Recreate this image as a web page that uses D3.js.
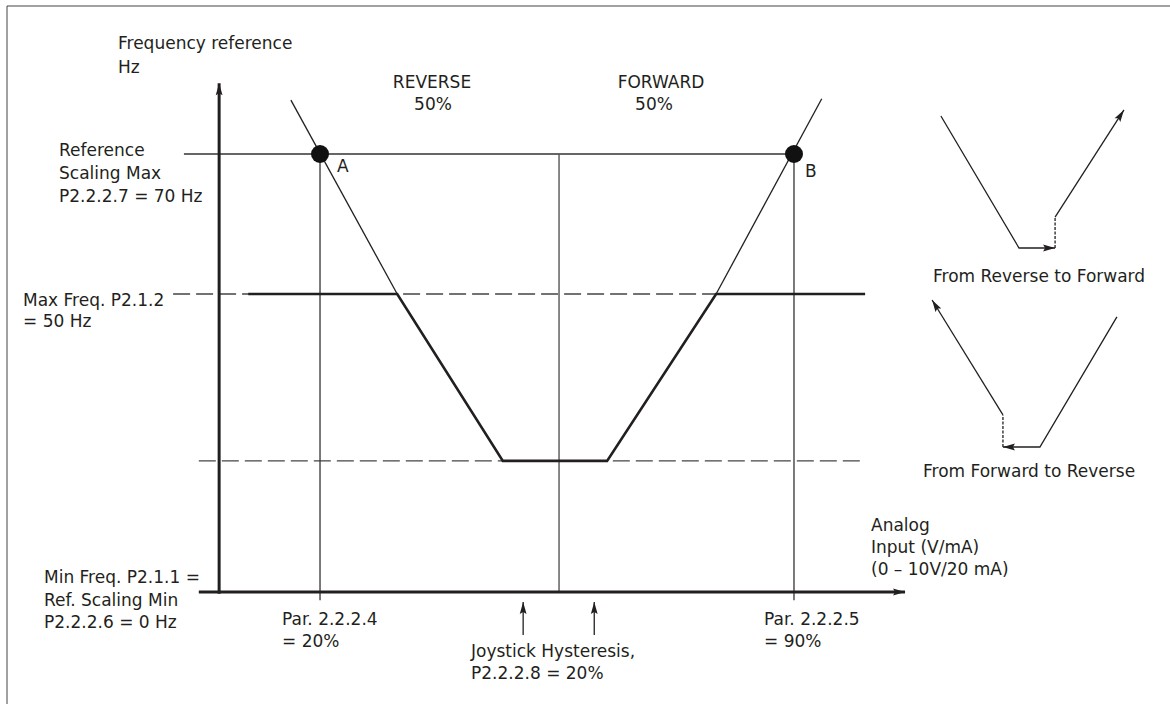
<!DOCTYPE html>
<html>
<head>
<meta charset="utf-8">
<title>Joystick hysteresis</title>
<style>
  body { margin: 0; background: #fff; }
  svg text { font-family: "DejaVu Sans", sans-serif; font-size: 17px; fill: #231f20; }
</style>
<script src="https://cdn.jsdelivr.net/npm/d3@7/dist/d3.min.js"></script>
</head>
<body>
<div id="chart"></div>
<script type="text/javascript">

// ---- data (x = analog input %, y = frequency Hz) ----
var levelsHz = [0, 22, 50, 70];              // min, hysteresis floor, max freq, ref scaling max
var parPct = [20, 90];                        // Par. 2.2.2.4 / Par. 2.2.2.5
var centerPct = 55.3;                         // reverse / forward split
var hystPct = [50, 60.5];                     // joystick hysteresis band
var thickCurve = [[9.4, 50], [31.4, 50], [47.0, 22], [62.4, 22], [78.5, 50], [100.5, 50]];
var thinLeft = [[15.7, 77.7], [31.4, 50]];
var thinRight = [[94.1, 77.9], [78.5, 50]];
var pointsAB = [{name: "A", pct: 20, hz: 70}, {name: "B", pct: 90, hz: 70}];
var refMaxLine = [[-0.1, 70], [90, 70]];
var maxDash = [[-1.7, 50], [100.5, 50]];
var minDash = [[2.1, 22], [100.5, 22]];
var xAxisPts = [[2.1, 0], [106.4, 0]];
var yAxisPts = [[5.1, -0.3], [5.1, 80.1]];

// small explanatory sketches (units 0..100 in their own box)
var fwdSketch = [[9.5, 94.3], [45, 0], [61.4, 0]];
var fwdStep = [[61.4, 0], [61.4, 22.1]];
var fwdOut = [[61.4, 22.1], [92.7, 98.6]];
var revIn = [[89.5, 92.9], [54.5, 0], [37.7, 0]];
var revStep = [[37.7, 0], [37.7, 22.9]];
var revOut = [[37.7, 22.9], [5.5, 105]];

var W = 1170, H = 704;

var svg = d3.select("#chart").append("svg")
    .attr("width", W)
    .attr("height", H);

// arrow heads
var defs = svg.append("defs");
defs.append("marker")
    .attr("id", "arrow")
    .attr("viewBox", "0 -4 12 8")
    .attr("refX", 12).attr("refY", 0)
    .attr("markerUnits", "userSpaceOnUse")
    .attr("markerWidth", 13).attr("markerHeight", 8)
    .attr("orient", "auto")
    .append("path").attr("d", "M0,-3.4L12,0L0,3.4L2,0Z").attr("fill", "#231f20");

// frame (top + left only)
svg.append("line").attr("x1", 7).attr("y1", 6).attr("x2", W).attr("y2", 6)
    .attr("stroke", "#444").attr("stroke-width", 1);
svg.append("line").attr("x1", 7).attr("y1", 6).attr("x2", 7).attr("y2", H)
    .attr("stroke", "#444").attr("stroke-width", 1);

// scales
var x = d3.scaleLinear().domain([0, 100]).range([184.6, 861.7]);
var y = d3.scaleLinear().domain([0, 50, 70]).range([592, 294, 154]);

var line = d3.line().x(function(d) { return x(d[0]); }).y(function(d) { return y(d[1]); });

// dashed level lines
svg.append("path").attr("d", line(maxDash)).attr("fill", "none")
    .attr("stroke", "#444").attr("stroke-width", 1.4).attr("stroke-dasharray", "17,6");
svg.append("path").attr("d", line(minDash)).attr("fill", "none")
    .attr("stroke", "#444").attr("stroke-width", 1.4).attr("stroke-dasharray", "17,6");

// reference scaling max line
svg.append("path").attr("d", line(refMaxLine)).attr("fill", "none")
    .attr("stroke", "#333").attr("stroke-width", 1.3);

// verticals at par 2.2.2.4 / 2.2.2.5
svg.selectAll(".parLine").data(parPct).enter().append("line")
    .attr("x1", function(d) { return x(d); }).attr("x2", function(d) { return x(d); })
    .attr("y1", y(70)).attr("y2", y(-1.4))
    .attr("stroke", "#333").attr("stroke-width", 1.3);

// centre line
svg.append("line")
    .attr("x1", x(centerPct)).attr("x2", x(centerPct))
    .attr("y1", y(70)).attr("y2", y(0))
    .attr("stroke", "#555").attr("stroke-width", 1.4);

// thin scaling lines
[thinLeft, thinRight].forEach(function(p) {
    svg.append("path").attr("d", line(p)).attr("fill", "none")
        .attr("stroke", "#231f20").attr("stroke-width", 1.3);
});

// thick output curve
svg.append("path").attr("d", line(thickCurve)).attr("fill", "none")
    .attr("stroke", "#231f20").attr("stroke-width", 2.6).attr("stroke-linejoin", "miter");

// axes
svg.append("path").attr("d", line(xAxisPts)).attr("fill", "none")
    .attr("stroke", "#231f20").attr("stroke-width", 3).attr("marker-end", "url(#arrow)");
svg.append("path").attr("d", line(yAxisPts)).attr("fill", "none")
    .attr("stroke", "#231f20").attr("stroke-width", 3).attr("marker-end", "url(#arrow)");

// points A and B
svg.selectAll(".pt").data(pointsAB).enter().append("circle")
    .attr("cx", function(d) { return x(d.pct); })
    .attr("cy", function(d) { return y(d.hz); })
    .attr("r", 9).attr("fill", "#111");
svg.selectAll(".ptLabel").data(pointsAB).enter().append("text")
    .attr("x", function(d) { return x(d.pct) + (d.name == "A" ? 17 : 11); })
    .attr("y", function(d) { return y(d.hz) + (d.name == "A" ? 18 : 23); })
    .text(function(d) { return d.name; });

// hysteresis arrows
svg.selectAll(".hyst").data(hystPct).enter().append("line")
    .attr("x1", function(d) { return x(d); }).attr("x2", function(d) { return x(d); })
    .attr("y1", 635).attr("y2", 602)
    .attr("stroke", "#231f20").attr("stroke-width", 1.3).attr("marker-end", "url(#arrow)");

// small sketches on the right
var mx = d3.scaleLinear().domain([0, 100]).range([920, 1140]);
var myTop = d3.scaleLinear().domain([0, 100]).range([248, 108]);
var myBot = d3.scaleLinear().domain([0, 100]).range([447, 307]);
function sketch(pts, ys) {
    return d3.line().x(function(d) { return mx(d[0]); }).y(function(d) { return ys(d[1]); })(pts);
}
svg.append("path").attr("d", sketch(fwdSketch, myTop)).attr("fill", "none")
    .attr("stroke", "#231f20").attr("stroke-width", 1.3).attr("marker-end", "url(#arrow)");
svg.append("path").attr("d", sketch(fwdStep, myTop)).attr("fill", "none")
    .attr("stroke", "#231f20").attr("stroke-width", 1.3).attr("stroke-dasharray", "3,1.5");
svg.append("path").attr("d", sketch(fwdOut, myTop)).attr("fill", "none")
    .attr("stroke", "#231f20").attr("stroke-width", 1.3).attr("marker-end", "url(#arrow)");
svg.append("path").attr("d", sketch(revIn, myBot)).attr("fill", "none")
    .attr("stroke", "#231f20").attr("stroke-width", 1.3).attr("marker-end", "url(#arrow)");
svg.append("path").attr("d", sketch(revStep, myBot)).attr("fill", "none")
    .attr("stroke", "#231f20").attr("stroke-width", 1.3).attr("stroke-dasharray", "3,1.5");
svg.append("path").attr("d", sketch(revOut, myBot)).attr("fill", "none")
    .attr("stroke", "#231f20").attr("stroke-width", 1.3).attr("marker-end", "url(#arrow)");

// ---- text labels ----
var labels = [
    {x: 118, y: 49, lines: ["Frequency reference", "Hz"], dy: 24},
    {x: 59, y: 156, lines: ["Reference", "Scaling Max", "P2.2.2.7 = 70 Hz"], dy: 23},
    {x: 23, y: 306, lines: ["Max Freq. P2.1.2", "= 50 Hz"], dy: 21},
    {x: 44, y: 583, lines: ["Min Freq. P2.1.1 =", "Ref. Scaling Min", "P2.2.2.6 = 0 Hz"], dy: 22.5},
    {x: 282, y: 625, lines: ["Par. 2.2.2.4", "= 20%"], dy: 22},
    {x: 764, y: 625, lines: ["Par. 2.2.2.5", "= 90%"], dy: 22},
    {x: 471, y: 657, lines: ["Joystick Hysteresis,", "P2.2.2.8 = 20%"], dy: 22},
    {x: 871, y: 531, lines: ["Analog", "Input (V/mA)", "(0 \u2013 10V/20 mA)"], dy: 22},
    {x: 933, y: 282, lines: ["From Reverse to Forward"], dy: 0},
    {x: 923, y: 477, lines: ["From Forward to Reverse"], dy: 0}
];
labels.forEach(function(l) {
    var t = svg.append("text").attr("x", l.x).attr("y", l.y);
    l.lines.forEach(function(s, i) {
        t.append("tspan").attr("x", l.x).attr("y", l.y + i * l.dy).text(s);
    });
});

// direction headers, centred
var heads = [
    {x: 432, y: 88, text: "REVERSE"}, {x: 433, y: 110, text: "50%"},
    {x: 661, y: 88, text: "FORWARD"}, {x: 654, y: 110, text: "50%"}
];
svg.selectAll(".head").data(heads).enter().append("text")
    .attr("x", function(d) { return d.x; }).attr("y", function(d) { return d.y; })
    .attr("text-anchor", "middle")
    .text(function(d) { return d.text; });

</script>
</body>
</html>
